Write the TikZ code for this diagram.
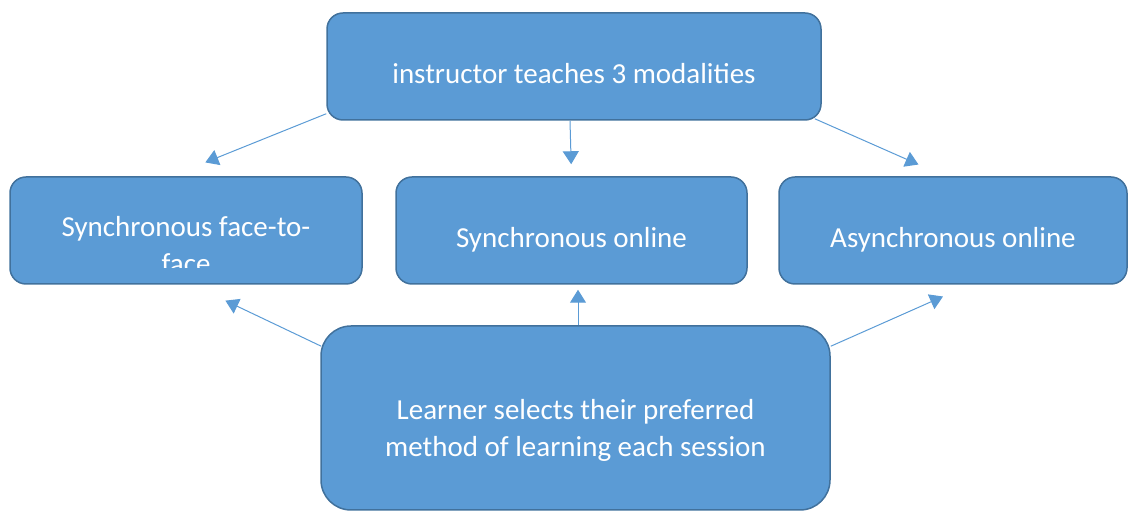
\documentclass[tikz,border=0pt]{standalone}
\usepackage{fontspec}
\setmainfont{Carlito}
\usetikzlibrary{arrows.meta}

\definecolor{boxfill}{HTML}{5B9BD5}
\definecolor{boxline}{HTML}{41719C}

\tikzset{
  modebox/.style={shape=rectangle,rounded corners=16pt,fill=boxfill,draw=boxline,line width=1.5pt,inner sep=0pt},
  boxtext/.style={text=white,font=\fontsize{29}{37}\selectfont,align=center,inner sep=0pt},
  flow/.style={draw=boxfill,line width=1pt,-{Triangle[length=13pt,width=16pt]}}
}

\begin{document}
\begin{tikzpicture}[x=1pt,y=1pt]
	\useasboundingbox (0,0) rectangle (1128,511);
	% the boxes
	\node (teach) at (574,444.5) [modebox,minimum width=494pt,minimum height=107pt] {};
	\node (f2f) at (186,280.5) [modebox,minimum width=352pt,minimum height=107pt] {};
	\node (sync) at (571.5,280.5) [modebox,minimum width=351pt,minimum height=107pt] {};
	\node (async) at (953,280.5) [modebox,minimum width=348pt,minimum height=107pt] {};
	\node (learner) at (575.5,93) [modebox,rounded corners=30pt,minimum width=509pt,minimum height=184pt] {};
	% their texts
	\node (teach-t) at ([yshift=-17pt]teach.center) [boxtext,anchor=base] {instructor teaches 3 modalities};
	\node (sync-t) at ([yshift=-17pt]sync.center) [boxtext,anchor=base] {Synchronous online};
	\node (async-t) at ([yshift=-17pt]async.center) [boxtext,anchor=base] {Asynchronous online};
	\node (learner-t) at ([yshift=-12pt]learner.center) [boxtext] {Learner selects their preferred\\method of learning each session};
	% text runs past the bottom and gets cut off
	\begin{scope}
		\clip (f2f.north west) rectangle ([yshift=17pt]f2f.south east);
		\node (f2f-t) at ([yshift=-43.5pt]f2f.center) [boxtext,anchor=base] {Synchronous face-to-\\face};
	\end{scope}
	% arrows
	\draw [flow,shorten >=37pt] ([yshift=7pt]teach.south west) -- ([xshift=-15pt]f2f.north);
	\draw [flow,shorten >=12pt] ([xshift=-4pt]teach.south) -- (sync.north);
	\draw [flow,shorten >=29pt] ([xshift=-7pt,yshift=2pt]teach.south east) -- ([xshift=-8pt]async.north);
	\draw [flow,shorten >=37pt] ([xshift=1pt,yshift=-21pt]learner.north west) -- ([xshift=6pt]f2f.south);
	\draw [flow,shorten >=5pt] ([xshift=2.5pt]learner.north) -- ([xshift=6.5pt]sync.south);
	\draw [flow,shorten >=29pt] ([yshift=-21pt]learner.north east) -- ([xshift=16.5pt]async.south);
\end{tikzpicture}
\end{document}
